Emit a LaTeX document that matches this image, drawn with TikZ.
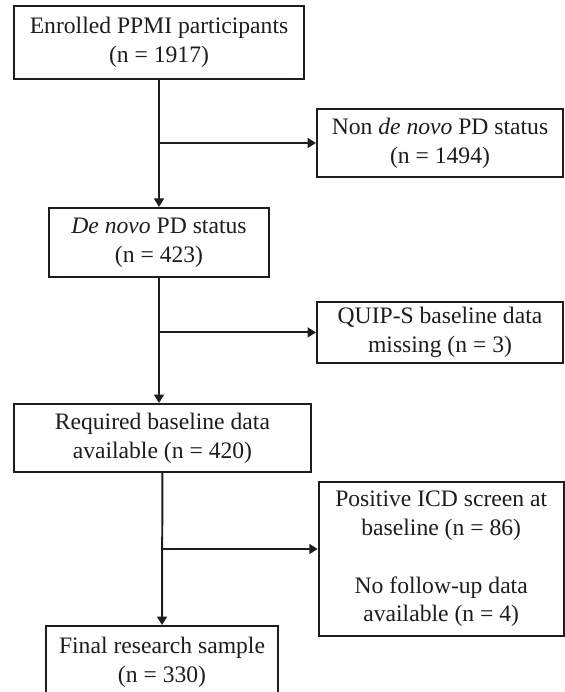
\documentclass[tikz,border=0pt]{standalone}
\usepackage{fontspec}
\setmainfont{Liberation Serif}
\usepackage{tikz}
\usetikzlibrary{arrows.meta, positioning, calc}
\definecolor{mydark}{RGB}{30,28,29}
\tikzset{
  box/.style={rectangle, draw=mydark, fill=white, text=mydark,
    align=center, inner sep=0pt, line width=1.4pt,
    font=\fontsize{16.8}{20.5}\selectfont},
  arrow/.style={-{Triangle[length=6pt, width=7pt]}, line width=1.4pt, color=mydark},
  line/.style={line width=1.4pt, color=mydark}
}

\begin{document}
\begin{tikzpicture}
  \useasboundingbox (0,0) rectangle (14.125,-17.3);

  % Main column
  \node[box, minimum width=7.25cm, minimum height=1.825cm] (enrolled) at (3.975, -1.06) {Enrolled PPMI participants\\(n = 1917)};
  \node[box, minimum width=5.5cm, minimum height=1.725cm] (denovo) at (3.975, -6.06) {\textit{De novo} PD status\\(n = 423)};
  \node[box, minimum width=7.425cm, minimum height=1.7cm] (required) at (4.06, -10.95) {Required baseline data\\available (n = 420)};
  \node[box, minimum width=5.8cm, minimum height=1.8cm] (final) at (4.05, -16.55) {Final research sample\\(n = 330)};

  % Exclusions
  \node[box, minimum width=6.15cm, minimum height=1.7cm] (nondenovo) at (11.0, -3.575) {Non \textit{de novo} PD status\\(n = 1494)};
  \node[box, minimum width=6.15cm, minimum height=1.525cm] (quips) at (11.0, -8.31) {QUIP-S baseline data\\missing (n = 3)};
  \node[box, minimum width=6.125cm, minimum height=3.85cm] (icd) at (11.03, -13.975) {Positive ICD screen at\\baseline (n = 86)\\[20.5pt]No follow-up data\\available (n = 4)};

  % Branch points
  \coordinate (b1) at (enrolled.south |- nondenovo.west);
  \coordinate (b2) at (denovo.south |- quips.west);
  \coordinate (b3) at ($(required.south)!0.5!(final.north)$);

  % Connections
  \draw[arrow] (enrolled.south) -- (denovo.north);
  \draw[arrow] (denovo.south) -- (denovo.south |- required.north);
  \draw[arrow] (required.south) -- (final.north);
  \draw[arrow] (b1) -- (nondenovo.west);
  \draw[arrow] (b2) -- (quips.west);
  \draw[arrow] (b3) -- (b3 -| icd.west);
\end{tikzpicture}
\end{document}
